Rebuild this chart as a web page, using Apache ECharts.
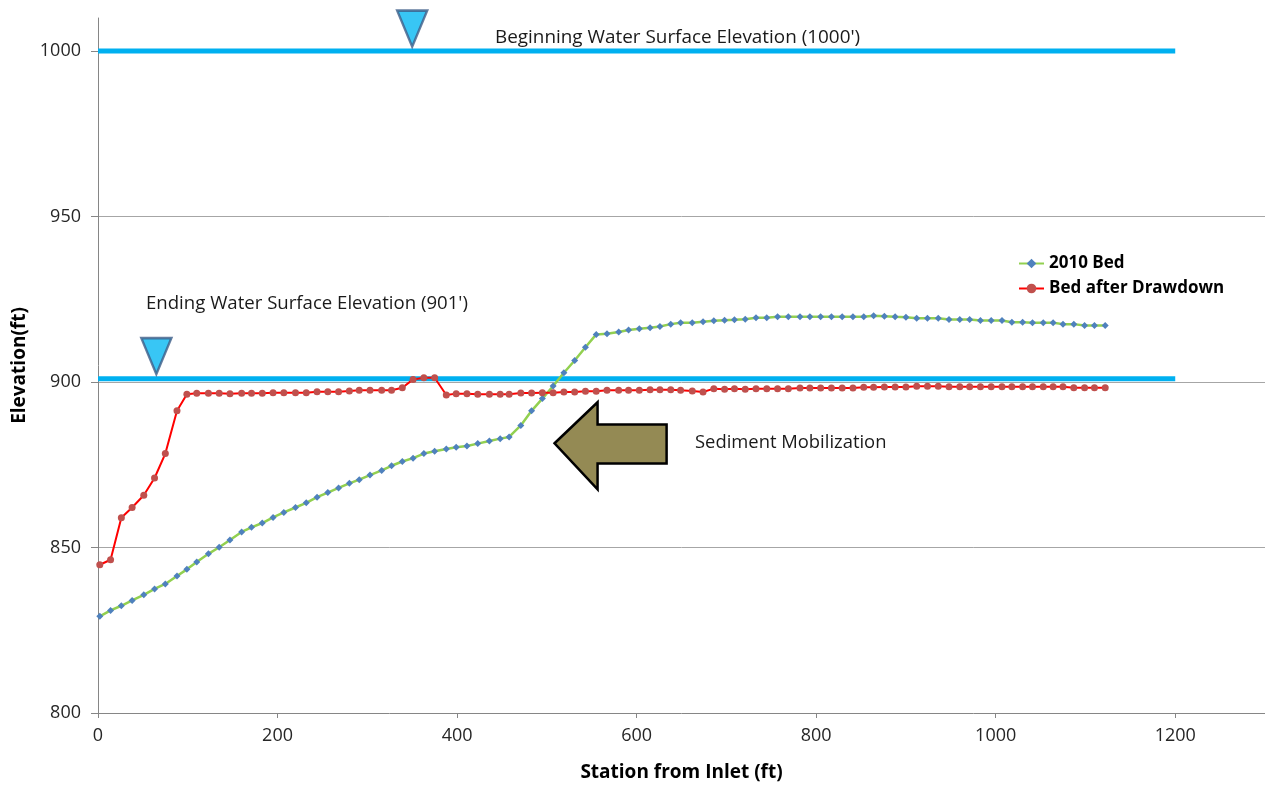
<!DOCTYPE html>
<html><head><meta charset="utf-8">
<script src="https://cdn.jsdelivr.net/npm/echarts@6/dist/echarts.min.js"></script>
<style>html,body{margin:0;padding:0;background:#fff}#c{width:1265px;height:790px}</style>
</head><body><div id="c"></div>
<script>
const stations = [2,14,26,38,51,63,75,88,99,110,123,135,147,160,171,183,195,207,220,232,244,256,268,280,291,303,316,327,339,351,363,375,388,399,411,423,436,448,458,471,483,495,507,519,531,543,555,567,580,591,603,615,626,638,649,662,674,686,698,709,721,733,745,757,769,782,793,805,817,829,841,853,864,876,888,900,912,924,936,948,960,971,983,995,1007,1018,1030,1041,1053,1064,1075,1087,1099,1110,1122];
const bed2010 = [829.2,831.0,832.4,834.0,835.7,837.5,839.0,841.4,843.4,845.6,
848.1,850.1,852.3,854.7,856.1,857.4,859.1,860.6,862.1,863.5,
865.2,866.6,868.0,869.4,870.5,871.9,873.3,874.7,876.0,877.0,
878.4,879.1,879.8,880.3,880.7,881.4,882.2,882.9,883.4,886.9,
891.3,895.0,898.8,902.8,906.5,910.5,914.4,914.6,915.1,915.7,
916.1,916.4,916.8,917.5,917.9,917.9,918.2,918.5,918.7,918.8,
919.0,919.4,919.4,919.7,919.7,919.7,919.7,919.7,919.7,919.7,
919.7,919.7,920.0,919.9,919.7,919.6,919.3,919.3,919.3,918.9,
918.9,918.9,918.6,918.6,918.6,918.1,918.1,917.9,917.9,917.9,
917.5,917.5,917.1,917.1,917.1];
const bedAfter = [844.8,846.3,859.0,862.1,865.8,871.0,878.4,891.3,896.3,896.6,
896.6,896.6,896.5,896.6,896.6,896.6,896.8,896.8,896.8,896.8,
897.1,897.1,897.1,897.3,897.5,897.5,897.5,897.5,898.3,900.8,
901.3,901.3,896.1,896.5,896.5,896.3,896.3,896.3,896.3,896.7,
896.7,896.8,896.8,897.0,897.0,897.2,897.2,897.5,897.5,897.5,
897.5,897.7,897.7,897.7,897.5,897.3,897.0,898.0,897.8,898.0,
897.8,898.0,898.0,898.0,898.0,898.2,898.2,898.2,898.2,898.2,
898.2,898.4,898.4,898.5,898.5,898.5,898.7,898.7,898.7,898.6,
898.6,898.6,898.6,898.6,898.6,898.6,898.6,898.6,898.6,898.6,
898.6,898.3,898.3,898.3,898.3];
const xTicks = [0,200,400,600,800,1000,1200];
const yTicks = [800,850,900,950,1000];
const wsBegin = [[0,1000],[1200,1000]];
const wsEnd = [[0,901],[1200,901]];
const triangles = [[350,1006.8],[65,907.8]];
const arrowPts = [[508.6,881.5],[556.5,893.9],[556.5,887.2],[633.4,887.2],[633.4,875.4],[556.5,875.4],[556.5,867.6]];
const seriesNames = ['2010 Bed','Bed after Drawdown'];
const notes = ["Beginning Water Surface Elevation (1000')", "Ending Water Surface Elevation (901')", 'Sediment Mobilization'];

const FONT = '"Open Sans", sans-serif';
const chart = echarts.init(document.getElementById('c'), null, {renderer:'canvas'});
const zip = (xs, ys) => xs.map((x,i)=>[x, ys[i]]);
const plain = v => String(v);

chart.setOption({
  animation: false,
  backgroundColor: '#fff',
  grid: {left: 98, right: 0, top: 18, bottom: 77},
  legend: {
    data: seriesNames, orient: 'vertical', left: 1013, top: 250,
    itemWidth: 25, itemHeight: 12, itemGap: 8,
    textStyle: {fontFamily: FONT, fontWeight: 'bold', fontSize: 17, color: '#000'}
  },
  xAxis: {
    type: 'value', min: 0, max: 1300, interval: 200,
    name: 'Station from Inlet (ft)', nameLocation: 'middle', nameGap: 50,
    nameTextStyle: {fontFamily: FONT, fontWeight: 'bold', fontSize: 19, color: '#000'},
    axisLine: {show: true, lineStyle: {color: '#868686', width: 1}},
    axisTick: {show: true, length: 5, customValues: xTicks, lineStyle: {color: '#868686'}},
    axisLabel: {customValues: xTicks, formatter: plain, margin: 14, fontFamily: FONT, fontSize: 18, color: '#262626'},
    splitLine: {show: false}
  },
  yAxis: {
    type: 'value', min: 800, max: 1010, interval: 50,
    name: 'Elevation(ft)', nameLocation: 'middle', nameGap: 62,
    nameTextStyle: {fontFamily: FONT, fontWeight: 'bold', fontSize: 19, color: '#000'},
    axisLine: {show: true, lineStyle: {color: '#868686', width: 1}},
    axisTick: {show: true, length: 7, customValues: yTicks, lineStyle: {color: '#868686'}},
    axisLabel: {customValues: yTicks, formatter: plain, margin: 17, fontFamily: FONT, fontSize: 18, color: '#262626'},
    splitLine: {show: true, showMinLine: false, showMaxLine: false, lineStyle: {color: '#A6A6A6', width: 1}}
  },
  graphic: [
    {type: 'text', x: 495, y: 38, style: {text: notes[0], font: '18.9px ' + FONT, fill: '#1a1a1a', verticalAlign: 'middle'}},
    {type: 'text', x: 146, y: 304, style: {text: notes[1], font: '18.6px ' + FONT, fill: '#1a1a1a', verticalAlign: 'middle'}},
    {type: 'text', x: 695, y: 443, style: {text: notes[2], font: '18.4px ' + FONT, fill: '#1a1a1a', verticalAlign: 'middle'}}
  ],
  series: [
    {type: 'line', name: 'ws1', data: wsBegin, showSymbol: false, symbol: 'none', silent: true,
     lineStyle: {color: '#00B0F0', width: 5}, z: 2},
    {type: 'line', name: 'ws2', data: wsEnd, showSymbol: false, symbol: 'none', silent: true,
     lineStyle: {color: '#00B0F0', width: 5}, z: 2},
    {type: 'line', name: seriesNames[0], data: zip(stations, bed2010),
     symbol: 'diamond', symbolSize: 7, showAllSymbol: true,
     lineStyle: {color: '#92D050', width: 2.5}, itemStyle: {color: '#4F81BD'}, z: 3},
    {type: 'line', name: seriesNames[1], data: zip(stations, bedAfter),
     symbol: 'circle', symbolSize: 7, showAllSymbol: true,
     lineStyle: {color: '#FF0000', width: 2}, itemStyle: {color: '#C0504D'}, z: 3},
    {type: 'scatter', name: 'tri', data: triangles, silent: true,
     symbol: 'path://M0,0 L30,0 L15,36 Z', symbolSize: [30, 36],
     itemStyle: {color: '#06B8F2', borderColor: '#3D5C87', borderWidth: 2.5}, z: 4},
    {type: 'custom', name: 'arrow', silent: true, data: [0], z: 4,
     renderItem: function (params, api) {
       const pts = arrowPts.map(p => api.coord(p));
       return {type: 'polygon', shape: {points: pts},
         style: {fill: '#948A54', stroke: '#000', lineWidth: 2.5, lineJoin: 'miter'}};
     }}
  ]
});
</script></body></html>
